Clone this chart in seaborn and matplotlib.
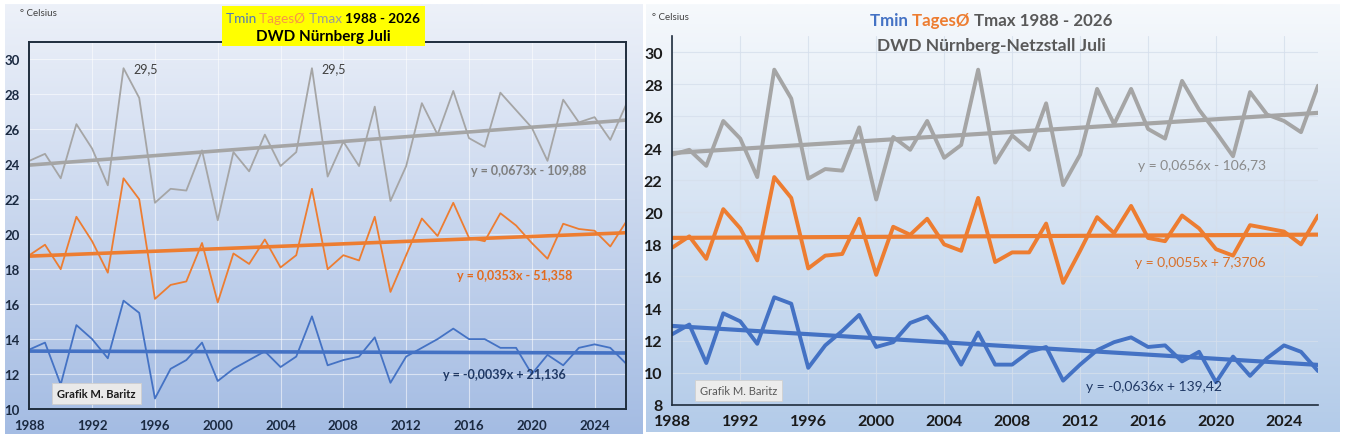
import numpy as np
import pandas as pd
import matplotlib.pyplot as plt
import seaborn as sns
from matplotlib.patches import Rectangle
from matplotlib.colors import LinearSegmentedColormap

# Juli-Mittelwerte
years = list(range(1988, 2027))

nbg_tmax = [24.2, 24.6, 23.2, 26.3, 24.9, 22.8, 29.5, 27.8, 21.8, 22.6,
            22.5, 24.8, 20.8, 24.7, 23.6, 25.7, 23.9, 24.7, 29.5, 23.3,
            25.3, 23.9, 27.3, 21.9, 23.9, 27.5, 25.7, 28.2, 25.5, 25.0,
            28.1, 27.1, 26.1, 24.2, 27.7, 26.4, 26.7, 25.4, 27.4]
nbg_tmean = [18.8, 19.4, 18.0, 21.0, 19.6, 17.8, 23.2, 22.0, 16.3, 17.1,
             17.3, 19.5, 16.1, 18.9, 18.3, 19.7, 18.1, 18.8, 22.6, 18.0,
             18.8, 18.5, 21.0, 16.7, 18.8, 20.9, 19.9, 21.8, 19.8, 19.6,
             21.2, 20.5, 19.5, 18.6, 20.6, 20.3, 20.2, 19.3, 20.7]
nbg_tmin = [13.4, 13.8, 11.4, 14.8, 14.0, 12.9, 16.2, 15.5, 10.6, 12.3,
            12.8, 13.8, 11.6, 12.3, 12.8, 13.3, 12.4, 13.0, 15.3, 12.5,
            12.8, 13.0, 14.1, 11.5, 13.0, 13.5, 14.0, 14.6, 14.0, 14.0,
            13.5, 13.5, 12.0, 13.1, 12.5, 13.5, 13.7, 13.5, 12.6]

netz_tmax = [23.6, 23.9, 22.9, 25.7, 24.6, 22.2, 28.9, 27.1, 22.1, 22.7,
             22.6, 25.3, 20.8, 24.7, 23.9, 25.7, 23.4, 24.2, 28.9, 23.1,
             24.8, 23.9, 26.8, 21.7, 23.6, 27.7, 25.5, 27.7, 25.2, 24.6,
             28.2, 26.4, 25.0, 23.5, 27.5, 26.1, 25.7, 25.0, 27.9]
netz_tmean = [17.8, 18.5, 17.1, 20.2, 19.0, 17.0, 22.2, 20.9, 16.5, 17.3,
              17.4, 19.6, 16.1, 19.1, 18.6, 19.6, 18.0, 17.6, 20.9, 16.9,
              17.5, 17.5, 19.3, 15.6, 17.6, 19.7, 18.7, 20.4, 18.4, 18.2,
              19.8, 19.0, 17.7, 17.3, 19.2, 19.0, 18.8, 18.0, 19.8]
netz_tmin = [12.4, 13.0, 10.6, 13.7, 13.2, 11.8, 14.7, 14.3, 10.3, 11.7,
             12.6, 13.6, 11.6, 11.9, 13.1, 13.5, 12.3, 10.5, 12.5, 10.5,
             10.5, 11.3, 11.6, 9.5, 10.5, 11.4, 11.9, 12.2, 11.6, 11.7,
             10.7, 11.3, 9.4, 11.0, 9.8, 10.9, 11.7, 11.3, 10.1]

year_ticks = list(range(1988, 2025, 4))
nbg_eqs = ['y = 0,0673x - 109,88', 'y = 0,0353x - 51,358', 'y = -0,0039x + 21,136']
netz_eqs = ['y = 0,0656x - 106,73', 'y = 0,0055x + 7,3706', 'y = -0,0636x + 139,42']

BLUE = '#4472c4'
ORANGE = '#ed7d31'
GRAY = '#a5a5a5'
W, H = 1346, 439

sns.set_theme(style='white')
plt.rcParams['font.family'] = ['Lato', 'DejaVu Sans']


def rect(x0, y0, x1, y1):
    # pixel box (y nach unten) -> figure fraction
    return [x0 / W, 1 - y1 / H, (x1 - x0) / W, (y1 - y0) / H]


def gradient_panel(fig, box, top, bottom):
    ax = fig.add_axes(box, zorder=-5)
    cmap = LinearSegmentedColormap.from_list('bg', [top, bottom])
    ax.imshow(np.linspace(0, 1, 256).reshape(-1, 1), aspect='auto',
              cmap=cmap, extent=[0, 1, 0, 1])
    ax.set_axis_off()
    return ax


def draw_station(ax, tmin, tmean, tmax, lw_data, lw_trend):
    df = pd.DataFrame({'Jahr': years, 'Tmin': tmin, 'TagesØ': tmean, 'Tmax': tmax})
    for col, color in [('Tmax', GRAY), ('TagesØ', ORANGE), ('Tmin', BLUE)]:
        sns.lineplot(data=df, x='Jahr', y=col, color=color, lw=lw_data, ax=ax)
        sns.regplot(data=df, x='Jahr', y=col, scatter=False, ci=None, color=color,
                    line_kws={'lw': lw_trend}, ax=ax)
    ax.set_xlabel('')
    ax.set_ylabel('')
    ax.set_xlim(1988, 2026)
    ax.set_xticks(year_ticks)
    ax.set_facecolor('none')


def title_line(ov, cx, y, pieces, size):
    texts = []
    for i, (txt, color, weight) in enumerate(pieces):
        if i == 0:
            t = ov.text(cx, y, txt, color=color, fontsize=size, fontweight=weight,
                        ha='left', va='center', zorder=6)
        else:
            t = ov.annotate(txt, xy=(1, 0), xycoords=texts[-1], color=color,
                            fontsize=size, fontweight=weight, ha='left', va='bottom',
                            zorder=6, annotation_clip=False)
        texts.append(t)
    return texts


fig = plt.figure(figsize=(W / 100, H / 100), dpi=100)

gradient_panel(fig, rect(5, 5, 643, 435), '#edf1f9', '#a4bce3')
gradient_panel(fig, rect(646, 5, 1340, 433), '#f6f9fc', '#b3cbe9')

# linke Grafik: DWD Nürnberg
ax1 = fig.add_axes(rect(29.3, 43, 626, 410))
draw_station(ax1, nbg_tmin, nbg_tmean, nbg_tmax, 1.3, 2.6)
ax1.set_ylim(10, 31)
ax1.set_yticks(range(10, 31, 2))
ax1.grid(True, color='white', alpha=0.55, lw=0.8)
for s in ax1.spines.values():
    s.set_color('#1f2d3d')
    s.set_linewidth(1.4)
ax1.tick_params(axis='both', direction='out', length=4, width=1.2, color='#1f2d3d',
                labelsize=9.5, labelcolor='#1b2a41', pad=3)
for lab in ax1.get_xticklabels() + ax1.get_yticklabels():
    lab.set_fontweight('bold')
for yr in (1994, 2006):
    v = nbg_tmax[years.index(yr)]
    ax1.annotate(f'{v:.1f}'.replace('.', ','), xy=(yr, v), xytext=(7, 0),
                 textcoords='offset points', va='center', ha='left',
                 fontsize=9, color='#404040')

# rechte Grafik: DWD Nürnberg-Netzstall
ax2 = fig.add_axes(rect(672.3, 37, 1318, 405.7))
draw_station(ax2, netz_tmin, netz_tmean, netz_tmax, 2.8, 3.0)
ax2.set_ylim(8, 31)
ax2.set_yticks(range(8, 31, 2))
ax2.grid(True, color='#d5dfec', alpha=0.8, lw=0.8)
for side in ('top', 'right'):
    ax2.spines[side].set_visible(False)
for side in ('left', 'bottom'):
    ax2.spines[side].set_color('#1f2d3d')
    ax2.spines[side].set_linewidth(1.2)
ax2.tick_params(axis='both', direction='out', length=4, width=1.1, color='#1f2d3d',
                labelsize=11.5, labelcolor='#1a1a1a', pad=3)
for lab in ax2.get_xticklabels() + ax2.get_yticklabels():
    lab.set_fontweight('bold')

# Texte im Pixelraster
ov = fig.add_axes([0, 0, 1, 1], zorder=10)
ov.set_xlim(0, W)
ov.set_ylim(H, 0)
ov.set_axis_off()

ov.add_patch(Rectangle((222, 7), 203, 40, facecolor='#ffff00', edgecolor='none', zorder=5))
left_title = title_line(ov, 228, 19, [('Tmin ', '#4f79b8', 'normal'), ('TagesØ ', '#f79646', 'normal'),
                                       ('Tmax ', '#9a9a9a', 'normal'), ('1988 - 2026', 'black', 'bold')], 9.8)
ov.text(323, 37, 'DWD Nürnberg Juli', color='black', fontsize=11,
        fontweight='bold', ha='center', va='center', zorder=6)
right_title = title_line(ov, 872, 21, [('Tmin ', BLUE, 'bold'), ('TagesØ ', ORANGE, 'bold'),
                                        ('Tmax 1988 - 2026', '#595959', 'bold')], 12.2)
ov.text(991, 46, 'DWD Nürnberg-Netzstall Juli', color='#595959', fontsize=12.5,
        fontweight='bold', ha='center', va='center', zorder=6)

ov.text(20, 14, '° Celsius', fontsize=7, color='#404040', ha='left', va='center')
ov.text(652, 18, '° Celsius', fontsize=7, color='#404040', ha='left', va='center')

for (x, y), eq, color in zip([(471, 171), (457, 276), (443, 375)], nbg_eqs,
                             ['#7f7f7f', '#e26b1f', '#1f3864']):
    ov.text(x, y, eq, fontsize=9, fontweight='bold', color=color, ha='left', va='center')
for (x, y), eq, color in zip([(1138, 166), (1135, 263), (1086, 387)], netz_eqs,
                             ['#8a8a8a', '#d8702a', '#1f3864']):
    ov.text(x, y, eq, fontsize=10, fontweight='normal', color=color, ha='left', va='center')

ov.text(57, 395, 'Grafik M. Baritz', fontsize=8, fontweight='bold', color='#1a1a1a',
        ha='left', va='center',
        bbox=dict(boxstyle='square,pad=0.45', fc='#e9e9e9', ec='#cfcfcf', lw=0.6))
ov.text(700, 392, 'Grafik M. Baritz', fontsize=8, color='#595959', ha='left', va='center',
        bbox=dict(boxstyle='square,pad=0.45', fc='#ececec', ec='#d0d0d0', lw=0.6))

# Titelzeilen zentrieren
fig.canvas.draw()
r = fig.canvas.get_renderer()
for parts, cx in [(left_title, 323), (right_title, 991)]:
    x0 = parts[0].get_window_extent(r).x0
    x1 = parts[-1].get_window_extent(r).x1
    parts[0].set_x(cx - (x1 - x0) / 2)

fig.savefig('out.png', dpi=100)
